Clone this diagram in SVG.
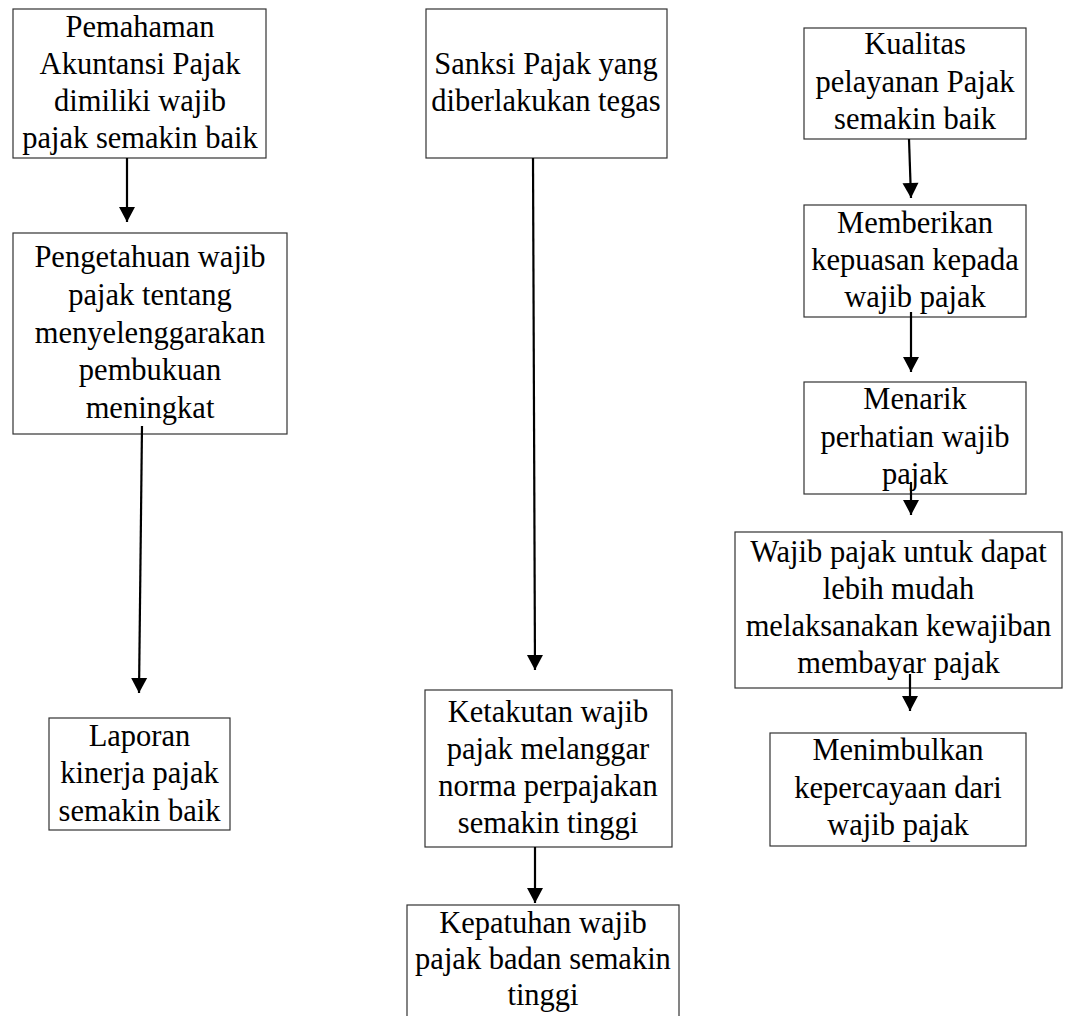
<svg xmlns="http://www.w3.org/2000/svg" width="1070" height="1016" viewBox="0 0 1070 1016">
<defs>
<style>
.box{fill:#fff;stroke:#333;stroke-width:1.2}
.t{font-family:"Liberation Serif","Times New Roman",serif;font-size:30.5px;fill:#000;text-anchor:middle}
.c{stroke:#000;stroke-width:2.2;fill:none;marker-end:url(#ah)}
</style>
<marker id="ah" markerUnits="userSpaceOnUse" markerWidth="17" markerHeight="17" refX="15" refY="8" orient="auto" overflow="visible">
<path d="M0,0 L15,8 L0,16 z" fill="#000"/>
</marker>
</defs>
<rect width="1070" height="1016" fill="#fff"/>

<g id="n-pemahaman">
<rect class="box" x="13" y="9" width="253" height="149"/>
<text class="t" x="140" y="37">Pemahaman</text>
<text class="t" x="140" y="74">Akuntansi Pajak</text>
<text class="t" x="140" y="111">dimiliki wajib</text>
<text class="t" x="140" y="148">pajak semakin baik</text>
</g>
<g id="n-pengetahuan">
<rect class="box" x="13" y="233" width="274" height="201"/>
<text class="t" x="150" y="267">Pengetahuan wajib</text>
<text class="t" x="150" y="305">pajak tentang</text>
<text class="t" x="150" y="343">menyelenggarakan</text>
<text class="t" x="150" y="380">pembukuan</text>
<text class="t" x="150" y="418">meningkat</text>
</g>
<g id="n-laporan">
<rect class="box" x="49" y="718" width="181" height="112"/>
<text class="t" x="139.5" y="746">Laporan</text>
<text class="t" x="139.5" y="783">kinerja pajak</text>
<text class="t" x="139.5" y="821">semakin baik</text>
</g>
<g id="n-sanksi">
<rect class="box" x="426" y="9" width="241" height="149"/>
<text class="t" x="546" y="74">Sanksi Pajak yang</text>
<text class="t" x="546" y="111">diberlakukan tegas</text>
</g>
<g id="n-ketakutan">
<rect class="box" x="425" y="690" width="247" height="157"/>
<text class="t" x="548" y="722">Ketakutan wajib</text>
<text class="t" x="548" y="759">pajak melanggar</text>
<text class="t" x="548" y="796">norma perpajakan</text>
<text class="t" x="548" y="833">semakin tinggi</text>
</g>
<g id="n-kepatuhan">
<rect class="box" x="407" y="905" width="272" height="120"/>
<text class="t" x="543" y="933">Kepatuhan wajib</text>
<text class="t" x="543" y="969">pajak badan semakin</text>
<text class="t" x="543" y="1005">tinggi</text>
</g>
<g id="n-kualitas">
<rect class="box" x="804" y="28" width="222" height="111"/>
<text class="t" x="915" y="54">Kualitas</text>
<text class="t" x="915" y="92">pelayanan Pajak</text>
<text class="t" x="915" y="129">semakin baik</text>
</g>
<g id="n-memberikan">
<rect class="box" x="804" y="205" width="222" height="112"/>
<text class="t" x="915" y="233">Memberikan</text>
<text class="t" x="915" y="270">kepuasan kepada</text>
<text class="t" x="915" y="307">wajib pajak</text>
</g>
<g id="n-menarik">
<rect class="box" x="804" y="382" width="222" height="112"/>
<text class="t" x="915" y="409">Menarik</text>
<text class="t" x="915" y="447">perhatian wajib</text>
<text class="t" x="915" y="484">pajak</text>
</g>
<g id="n-wajib">
<rect class="box" x="735" y="532" width="327" height="156"/>
<text class="t" x="898.5" y="562">Wajib pajak untuk dapat</text>
<text class="t" x="898.5" y="599">lebih mudah</text>
<text class="t" x="898.5" y="636">melaksanakan kewajiban</text>
<text class="t" x="898.5" y="673">membayar pajak</text>
</g>
<g id="n-menimbulkan">
<rect class="box" x="770" y="733" width="256" height="113"/>
<text class="t" x="898" y="760">Menimbulkan</text>
<text class="t" x="898" y="798">kepercayaan dari</text>
<text class="t" x="898" y="835">wajib pajak</text>
</g>

<g id="connectors">
<line class="c" x1="127" y1="158" x2="127" y2="222"/>
<line class="c" x1="142" y1="426" x2="139" y2="693"/>
<line class="c" x1="533" y1="158" x2="535" y2="670"/>
<line class="c" x1="535" y1="847" x2="535" y2="903"/>
<line class="c" x1="909" y1="139" x2="911" y2="198"/>
<line class="c" x1="911" y1="312" x2="911" y2="372"/>
<line class="c" x1="911" y1="482" x2="911" y2="515"/>
<line class="c" x1="910" y1="674" x2="910" y2="711"/>
</g>
</svg>
